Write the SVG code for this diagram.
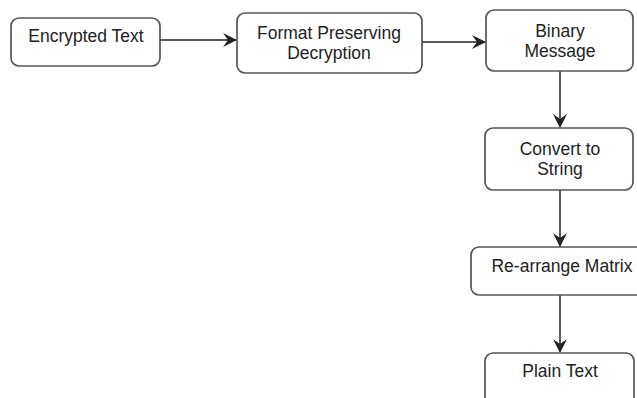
<svg xmlns="http://www.w3.org/2000/svg" width="637" height="398" viewBox="0 0 637 398">
<defs>
<style>
.box{fill:#fff;stroke:#555;stroke-width:1.7}
.t{font-family:"Liberation Sans",Arial,sans-serif;font-size:17.5px;fill:#222;text-anchor:middle}
.c{fill:none;stroke:#222;stroke-width:1.5}
</style>
<marker id="ah" viewBox="0 0 14 14" refX="13" refY="7" markerWidth="14" markerHeight="14" markerUnits="userSpaceOnUse" orient="auto">
<path d="M0,0 L14,7 L0,14 L5,7 Z" fill="#222"/>
</marker>
</defs>
<rect width="637" height="398" fill="#fff"/>
<g id="connectors">
<line class="c" x1="160" y1="40" x2="236" y2="40" marker-end="url(#ah)"/>
<line class="c" x1="422" y1="42" x2="485" y2="42" marker-end="url(#ah)"/>
<line class="c" x1="560" y1="71" x2="560" y2="127" marker-end="url(#ah)"/>
<line class="c" x1="560" y1="190" x2="560" y2="246" marker-end="url(#ah)"/>
<line class="c" x1="560" y1="295" x2="560" y2="352" marker-end="url(#ah)"/>
</g>
<g id="encrypted">
<rect class="box" x="11" y="18" width="149" height="48" rx="8"/>
<text class="t" x="86" y="42">Encrypted Text</text>
</g>
<g id="fpd">
<rect class="box" x="237" y="13" width="185" height="60" rx="8"/>
<text class="t" x="329" y="39">Format Preserving</text>
<text class="t" x="329" y="59">Decryption</text>
</g>
<g id="binary">
<rect class="box" x="486" y="10" width="147" height="61" rx="8"/>
<text class="t" x="560" y="37">Binary</text>
<text class="t" x="560" y="57">Message</text>
</g>
<g id="convert">
<rect class="box" x="485" y="128" width="148" height="62" rx="8"/>
<text class="t" x="560" y="155">Convert to</text>
<text class="t" x="560" y="175">String</text>
</g>
<g id="rearrange">
<rect class="box" x="471" y="247" width="182" height="48" rx="8"/>
<text class="t" x="562" y="272">Re-arrange Matrix</text>
</g>
<g id="plain">
<rect class="box" x="485" y="353" width="149" height="60" rx="8"/>
<text class="t" x="560" y="377">Plain Text</text>
</g>
</svg>
